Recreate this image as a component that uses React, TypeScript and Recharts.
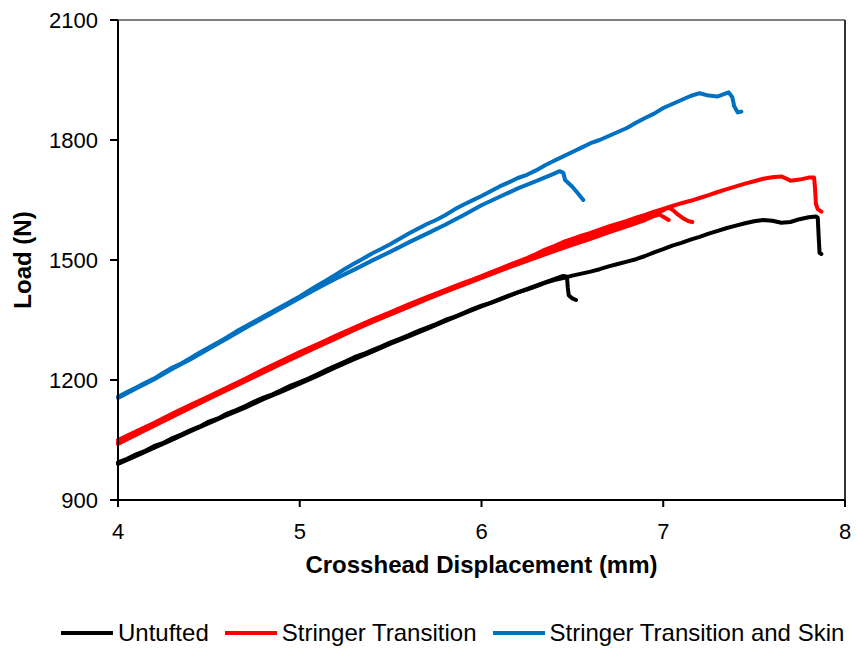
import React from "react";
import { LineChart, Line, XAxis, YAxis, Legend, ReferenceLine } from "recharts";

// Crosshead displacement (mm), load (N)
const untuftedA: [number, number][] = [
  [4.0, 994], [4.05, 1003], [4.1, 1014], [4.15, 1023], [4.2, 1035], [4.25, 1043], [4.3, 1055], [4.35, 1064],
  [4.4, 1075], [4.45, 1084], [4.5, 1096], [4.55, 1104], [4.6, 1116], [4.65, 1125], [4.7, 1135], [4.75, 1146],
  [4.8, 1156], [4.85, 1164], [4.9, 1175], [4.95, 1186], [5.0, 1195], [5.05, 1204], [5.1, 1215], [5.15, 1226],
  [5.2, 1236], [5.25, 1246], [5.3, 1257], [5.35, 1265], [5.4, 1275], [5.45, 1284], [5.5, 1294], [5.55, 1303],
  [5.6, 1312], [5.65, 1322], [5.7, 1331], [5.75, 1340], [5.8, 1350], [5.85, 1358], [5.9, 1367], [5.95, 1377],
  [6.0, 1386], [6.05, 1393], [6.1, 1402], [6.15, 1411], [6.2, 1419], [6.25, 1426], [6.3, 1434], [6.35, 1443],
  [6.4, 1450], [6.45, 1455], [6.5, 1461], [6.55, 1466], [6.6, 1471], [6.65, 1477], [6.7, 1484], [6.75, 1490],
  [6.8, 1496], [6.85, 1502], [6.9, 1510], [6.95, 1519], [7.0, 1527], [7.05, 1536], [7.1, 1543], [7.15, 1551],
  [7.2, 1558], [7.25, 1566], [7.3, 1573], [7.35, 1580], [7.4, 1586], [7.45, 1592], [7.5, 1597], [7.55, 1600],
  [7.6, 1598], [7.65, 1593], [7.7, 1595], [7.75, 1602], [7.8, 1607], [7.84, 1609], [7.85, 1606], [7.855, 1560],
  [7.86, 1518], [7.87, 1515],
];
const untuftedB: [number, number][] = [
  [4.0, 990], [4.1, 1010], [4.2, 1031], [4.3, 1051], [4.4, 1072], [4.5, 1092], [4.6, 1112], [4.7, 1131],
  [4.8, 1152], [4.9, 1171], [5.0, 1191], [5.1, 1211], [5.2, 1232], [5.3, 1252], [5.4, 1271], [5.5, 1291],
  [5.6, 1309], [5.7, 1328], [5.8, 1347], [5.9, 1366], [6.0, 1384], [6.1, 1401], [6.2, 1419], [6.3, 1436],
  [6.4, 1452], [6.45, 1460], [6.47, 1458], [6.475, 1430], [6.48, 1412], [6.5, 1404], [6.52, 1400],
];
const stringerA: [number, number][] = [
  [4.0, 1044], [4.05, 1056], [4.1, 1067], [4.15, 1079], [4.2, 1090], [4.25, 1100], [4.3, 1112], [4.35, 1124],
  [4.4, 1134], [4.45, 1146], [4.5, 1156], [4.55, 1168], [4.6, 1178], [4.65, 1190], [4.7, 1200], [4.75, 1212],
  [4.8, 1222], [4.85, 1234], [4.9, 1245], [4.95, 1255], [5.0, 1266], [5.05, 1276], [5.1, 1287], [5.15, 1297],
  [5.2, 1308], [5.25, 1318], [5.3, 1329], [5.35, 1339], [5.4, 1349], [5.45, 1358], [5.5, 1368], [5.55, 1378],
  [5.6, 1387], [5.65, 1397], [5.7, 1406], [5.75, 1416], [5.8, 1425], [5.85, 1434], [5.9, 1443], [5.95, 1451],
  [6.0, 1460], [6.05, 1469], [6.1, 1478], [6.15, 1487], [6.2, 1496], [6.25, 1505], [6.3, 1515], [6.35, 1526],
  [6.4, 1535], [6.45, 1545], [6.5, 1553], [6.55, 1561], [6.6, 1568], [6.65, 1576], [6.7, 1584], [6.75, 1591],
  [6.8, 1598], [6.85, 1606], [6.9, 1613], [6.95, 1621], [7.0, 1628], [7.05, 1635], [7.1, 1642], [7.15, 1648],
  [7.2, 1655], [7.25, 1662], [7.3, 1670], [7.35, 1677], [7.4, 1684], [7.45, 1691], [7.5, 1697], [7.55, 1703],
  [7.6, 1707], [7.65, 1709], [7.68, 1703], [7.7, 1698], [7.75, 1701], [7.8, 1706], [7.83, 1706], [7.835, 1680],
  [7.84, 1640], [7.85, 1627], [7.87, 1621],
];
const stringerB: [number, number][] = [
  [4.0, 1040], [4.1, 1063], [4.2, 1086], [4.3, 1108], [4.4, 1131], [4.5, 1153], [4.6, 1175], [4.7, 1197],
  [4.8, 1219], [4.9, 1241], [5.0, 1262], [5.1, 1283], [5.2, 1304], [5.3, 1325], [5.4, 1345], [5.5, 1364],
  [5.6, 1383], [5.7, 1402], [5.8, 1420], [5.9, 1438], [6.0, 1455], [6.1, 1473], [6.2, 1490], [6.3, 1508],
  [6.4, 1527], [6.5, 1544], [6.6, 1560], [6.7, 1576], [6.8, 1591], [6.9, 1607], [7.0, 1624], [7.02, 1630],
  [7.04, 1629], [7.06, 1622], [7.08, 1614], [7.11, 1604], [7.14, 1597], [7.16, 1595],
];
const stringerC: [number, number][] = [
  [4.0, 1050], [4.1, 1072], [4.2, 1093], [4.3, 1116], [4.4, 1138], [4.5, 1159], [4.6, 1181], [4.7, 1203],
  [4.8, 1226], [4.9, 1248], [5.0, 1270], [5.1, 1290], [5.2, 1311], [5.3, 1331], [5.4, 1351], [5.5, 1370],
  [5.6, 1389], [5.7, 1407], [5.8, 1424], [5.9, 1441], [6.0, 1457], [6.1, 1474], [6.2, 1490], [6.3, 1506],
  [6.4, 1522], [6.5, 1538], [6.6, 1553], [6.7, 1569], [6.8, 1584], [6.9, 1600], [6.95, 1610], [6.98, 1614],
  [7.0, 1608], [7.03, 1600],
];
const skinA: [number, number][] = [
  [4.0, 1158], [4.05, 1170], [4.1, 1181], [4.15, 1193], [4.2, 1204], [4.25, 1218], [4.3, 1231], [4.35, 1242],
  [4.4, 1255], [4.45, 1269], [4.5, 1281], [4.55, 1294], [4.6, 1307], [4.65, 1321], [4.7, 1334], [4.75, 1346],
  [4.8, 1359], [4.85, 1371], [4.9, 1384], [4.95, 1396], [5.0, 1409], [5.05, 1423], [5.1, 1437], [5.15, 1450],
  [5.2, 1464], [5.25, 1478], [5.3, 1491], [5.35, 1504], [5.4, 1517], [5.45, 1528], [5.5, 1540], [5.55, 1553],
  [5.6, 1566], [5.65, 1578], [5.7, 1590], [5.75, 1600], [5.8, 1612], [5.85, 1626], [5.9, 1638], [5.95, 1649],
  [6.0, 1660], [6.05, 1672], [6.1, 1684], [6.15, 1694], [6.2, 1705], [6.25, 1713], [6.3, 1724], [6.35, 1737],
  [6.4, 1748], [6.45, 1759], [6.5, 1770], [6.55, 1781], [6.6, 1792], [6.65, 1800], [6.7, 1810], [6.75, 1820],
  [6.8, 1830], [6.85, 1843], [6.9, 1855], [6.95, 1866], [7.0, 1880], [7.05, 1890], [7.1, 1900], [7.15, 1910],
  [7.2, 1917], [7.25, 1911], [7.3, 1909], [7.36, 1919], [7.38, 1907], [7.39, 1885], [7.41, 1869], [7.43, 1871],
];
const skinB: [number, number][] = [
  [4.0, 1155], [4.1, 1179], [4.2, 1202], [4.3, 1228], [4.4, 1252], [4.5, 1278], [4.6, 1304], [4.7, 1330],
  [4.8, 1355], [4.9, 1380], [5.0, 1405], [5.1, 1430], [5.2, 1454], [5.3, 1476], [5.4, 1499], [5.5, 1521],
  [5.6, 1544], [5.7, 1566], [5.8, 1588], [5.9, 1612], [6.0, 1637], [6.1, 1658], [6.2, 1679], [6.3, 1697],
  [6.4, 1716], [6.43, 1722], [6.45, 1718], [6.46, 1700], [6.5, 1683], [6.53, 1667], [6.56, 1650],
];

const xTicks = [4, 5, 6, 7, 8];
const yTicks = [900, 1200, 1500, 1800, 2100];

const legendItems = [
  { label: "Untufted", color: "#000000" },
  { label: "Stringer Transition", color: "#FF0000" },
  { label: "Stringer Transition and Skin", color: "#0070C0" },
];

const toPoints = (arr: [number, number][]) => arr.map(([disp, load]) => ({ disp, load }));

const curves = [
  { id: "u1", color: "#000000", data: toPoints(untuftedA) },
  { id: "u2", color: "#000000", data: toPoints(untuftedB) },
  { id: "s1", color: "#FF0000", data: toPoints(stringerA) },
  { id: "s2", color: "#FF0000", data: toPoints(stringerB) },
  { id: "s3", color: "#FF0000", data: toPoints(stringerC) },
  { id: "k1", color: "#0070C0", data: toPoints(skinA) },
  { id: "k2", color: "#0070C0", data: toPoints(skinB) },
];

const FONT = '"Liberation Sans", Arial, sans-serif';

const LegendContent = () => (
  <div style={{ height: 30, display: "flex", alignItems: "flex-start", paddingLeft: 61, fontFamily: FONT, fontSize: 24, lineHeight: "22px", color: "#000" }}>
    {legendItems.map((it, i) => (
      <div key={it.label} style={{ display: "flex", alignItems: "center", marginLeft: i === 0 ? 0 : 16 }}>
        <div style={{ width: 52, height: 4, background: it.color, marginRight: 5 }} />
        <span style={{ whiteSpace: "nowrap" }}>{it.label}</span>
      </div>
    ))}
  </div>
);

export default function App() {
  return (
    <div style={{ position: "absolute", left: 0, top: 0, width: 856, height: 652, background: "#fff" }}>
      <LineChart width={856} height={652} margin={{ top: 20, right: 11, bottom: 0, left: 0 }}>
        <XAxis
          dataKey="disp"
          type="number"
          domain={[4, 8]}
          ticks={xTicks}
          allowDuplicatedCategory={false}
          height={122}
          tickSize={7}
          tickMargin={16}
          stroke="#000"
          strokeWidth={2}
          tick={{ fill: "#000", fontSize: 22, fontFamily: FONT }}
          label={{ value: "Crosshead Displacement (mm)", position: "insideTop", offset: 56, style: { fontSize: 24, fontWeight: "bold", fontFamily: FONT, fill: "#000", textAnchor: "middle" } }}
        />
        <YAxis
          type="number"
          domain={[900, 2100]}
          ticks={yTicks}
          width={118}
          tickSize={8}
          tickMargin={12}
          stroke="#000"
          strokeWidth={2}
          tick={{ fill: "#000", fontSize: 22, fontFamily: FONT }}
          label={{ value: "Load (N)", angle: -90, position: "insideLeft", offset: 22, style: { fontSize: 24, fontWeight: "bold", fontFamily: FONT, fill: "#000", textAnchor: "middle" } }}
        />
        <ReferenceLine y={2100} stroke="#555" strokeWidth={1.5} />
        <ReferenceLine x={8} stroke="#333" strokeWidth={2} />
        <Legend verticalAlign="bottom" wrapperStyle={{ left: 0, width: 856 }} content={LegendContent} />
        {curves.map((c) => (
          <Line
            key={c.id}
            data={c.data}
            dataKey="load"
            type="linear"
            stroke={c.color}
            strokeWidth={4}
            strokeLinecap="round"
            strokeLinejoin="round"
            dot={false}
            activeDot={false}
            isAnimationActive={false}
            legendType="none"
          />
        ))}
      </LineChart>
    </div>
  );
}
